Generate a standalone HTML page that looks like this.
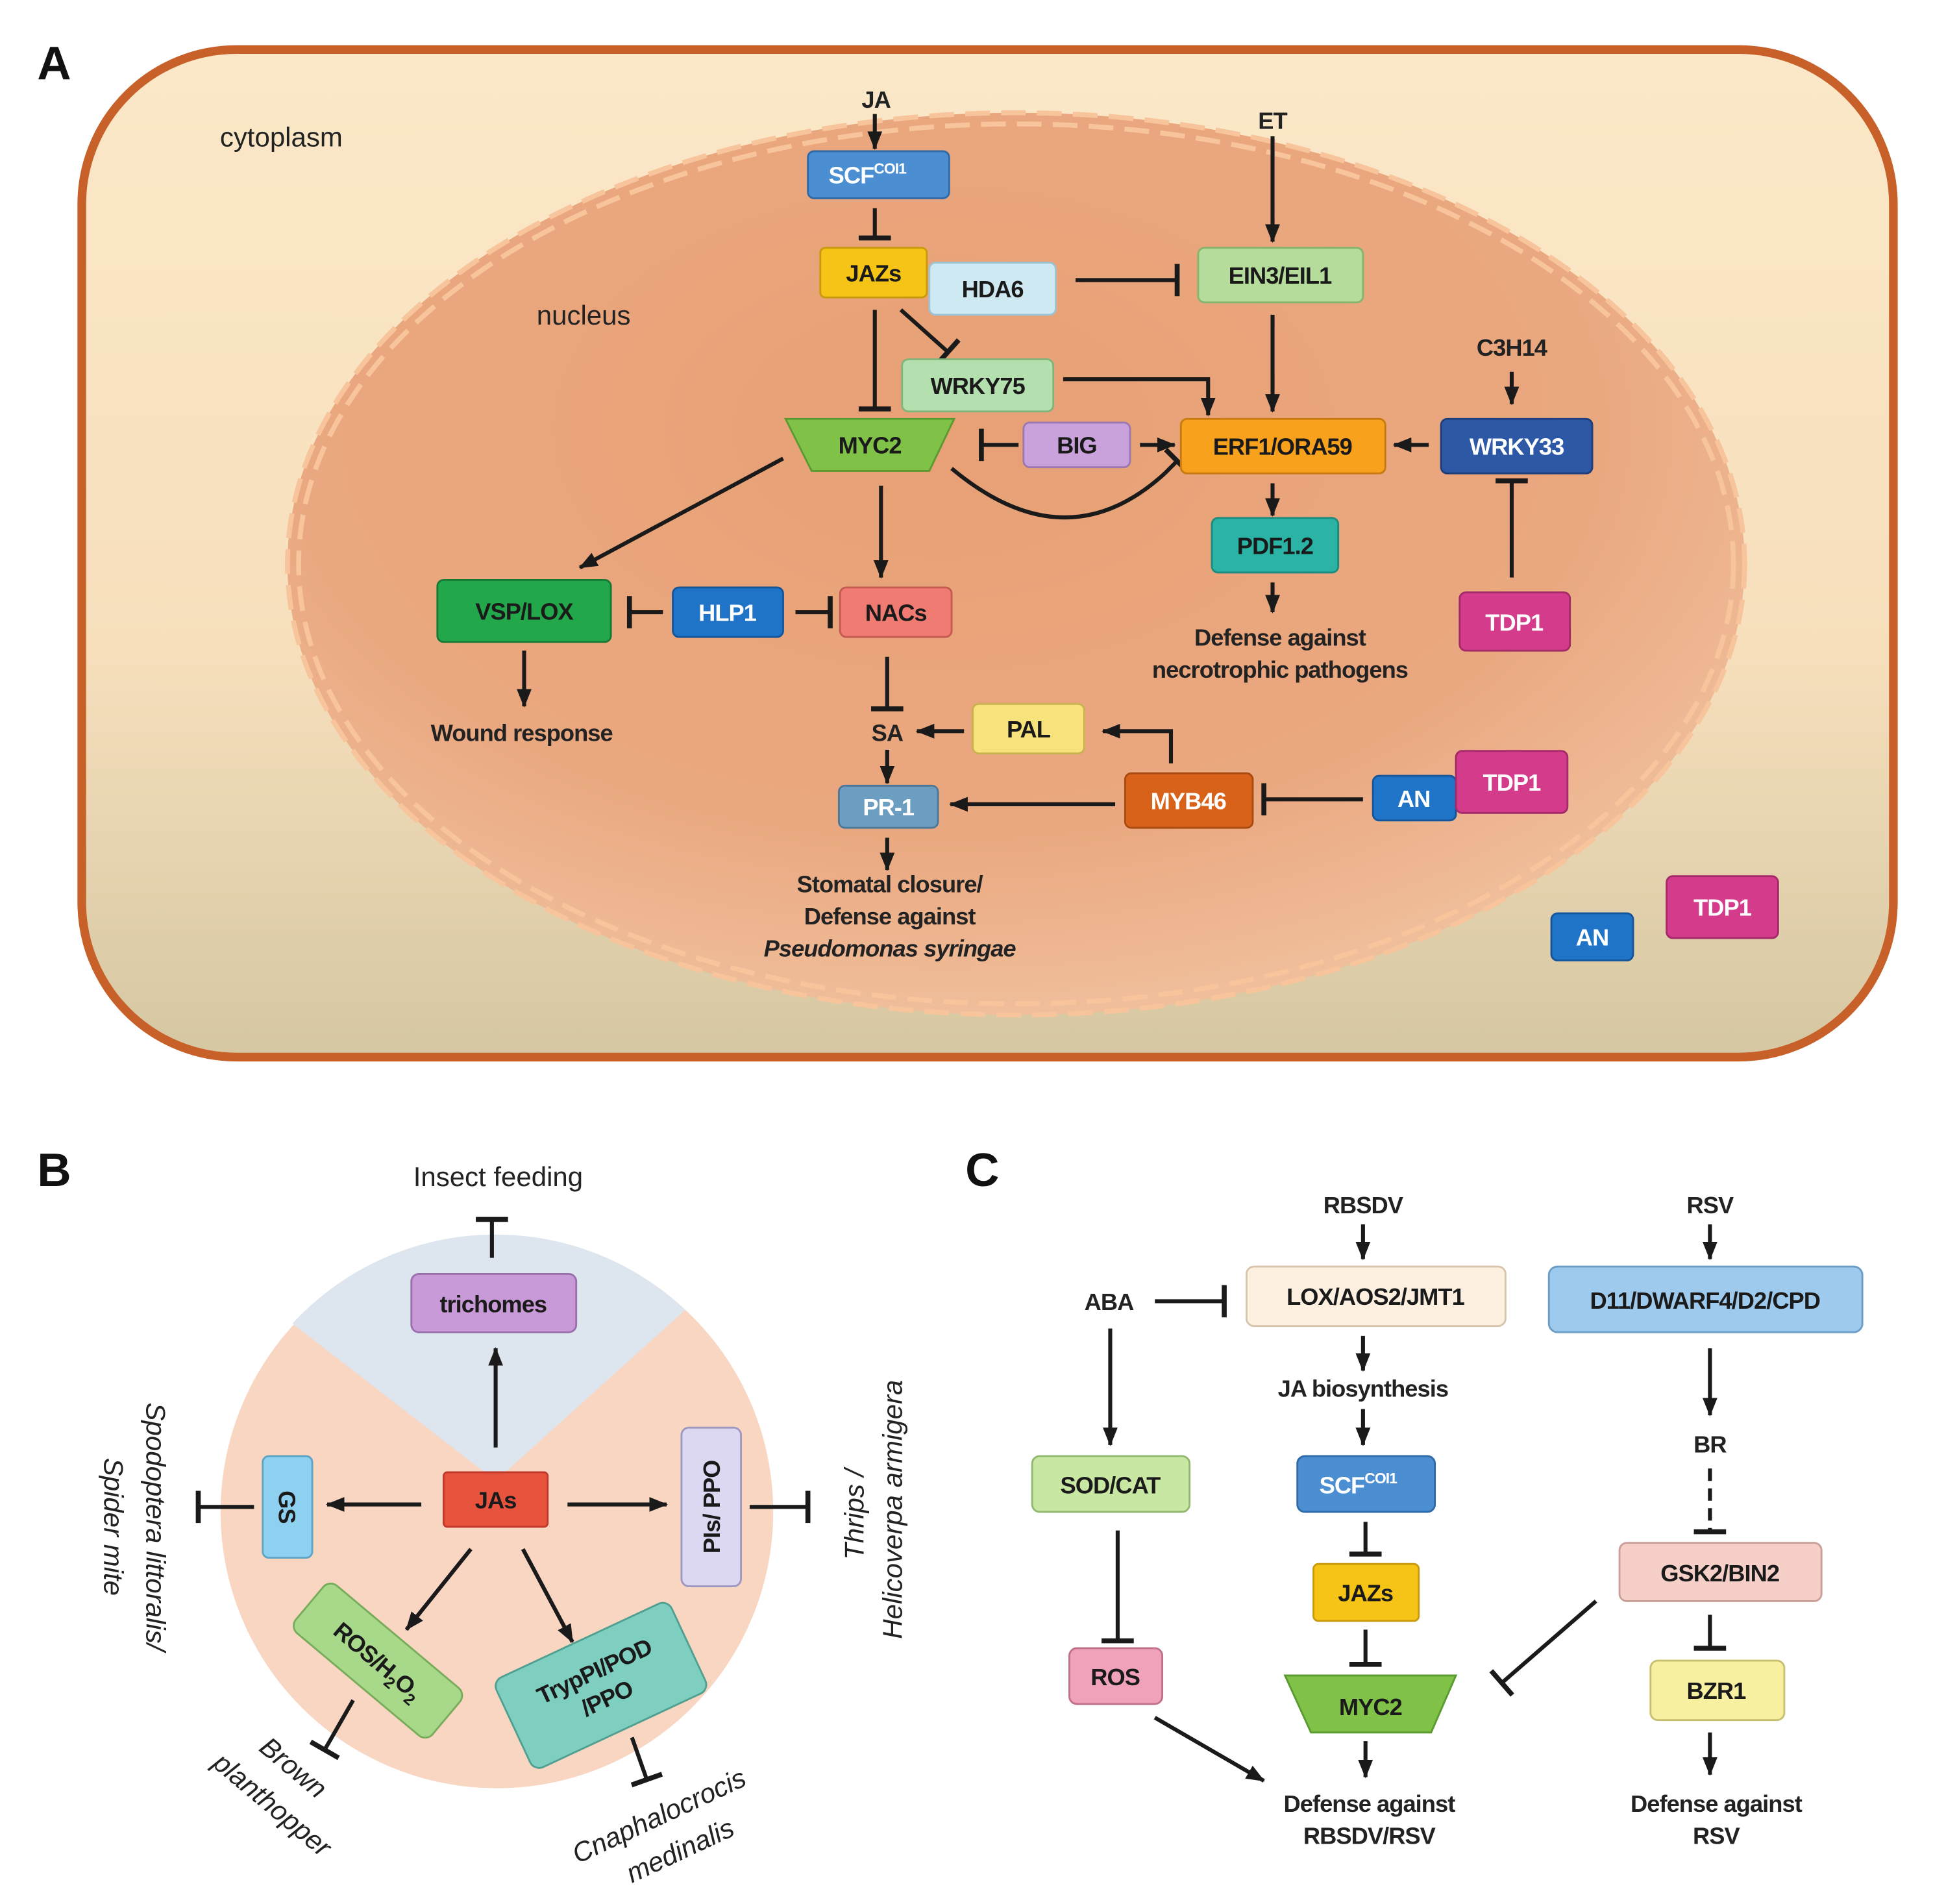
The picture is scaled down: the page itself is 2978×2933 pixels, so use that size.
<!DOCTYPE html>
<html><head><meta charset="utf-8"><style>
html,body{margin:0;padding:0;background:#fff;}
svg{display:block;}
text{font-family:"Liberation Sans",sans-serif;}
.n{font-weight:bold;font-size:19px;text-anchor:middle;fill:#1a1a1a;letter-spacing:-0.5px;}
.w{font-weight:bold;font-size:19px;text-anchor:middle;fill:#fff;letter-spacing:-0.5px;}
.l{font-weight:bold;font-size:19px;text-anchor:middle;fill:#222;letter-spacing:-0.5px;}
.p{font-size:22px;text-anchor:middle;fill:#222;}
.i{font-style:italic;font-size:22px;text-anchor:middle;fill:#222;}
.ln{stroke:#1a1a1a;stroke-width:3.2;fill:none;}
.bx{stroke-width:1.5;}
</style></head><body>
<svg width="2978" height="2933" viewBox="0 0 1560 1536.4" preserveAspectRatio="none" xmlns="http://www.w3.org/2000/svg">
<defs>
<linearGradient id="cyto" x1="0" y1="0" x2="0" y2="1">
<stop offset="0" stop-color="#fbe8c8"/><stop offset="0.6" stop-color="#f7dfbc"/><stop offset="1" stop-color="#d5c7a2"/></linearGradient>
<radialGradient id="nuc" cx="0.45" cy="0.35" r="0.75">
<stop offset="0" stop-color="#e8a075"/><stop offset="0.6" stop-color="#eaa880"/><stop offset="1" stop-color="#f2c9a8"/></radialGradient>
<marker id="a" markerUnits="userSpaceOnUse" markerWidth="16" markerHeight="16" refX="14" refY="8" orient="auto"><path d="M0,2 L15,8 L0,14 Z" fill="#1a1a1a"/></marker>
<marker id="b" markerUnits="userSpaceOnUse" markerWidth="6" markerHeight="30" refX="3" refY="15" orient="auto"><path d="M3,2 L3,28" stroke="#1a1a1a" stroke-width="4"/></marker>
</defs>
<rect width="1560" height="1536.4" fill="#fff"/>
<!-- Panel A -->
<text x="30" y="64" font-size="38" font-weight="bold" fill="#111">A</text>
<rect x="66" y="40" width="1462" height="813" rx="125" fill="url(#cyto)" stroke="#c8602a" stroke-width="7"/>
<ellipse cx="820" cy="455" rx="588" ry="364" fill="url(#nuc)"/>
<ellipse cx="820" cy="455" rx="588" ry="364" fill="none" stroke="#f7c49c" stroke-width="4" stroke-dasharray="20 9"/>
<ellipse cx="820" cy="455" rx="579" ry="355" fill="none" stroke="#f7c49c" stroke-width="4" stroke-dasharray="20 9"/>
<text x="227" y="118" class="p" font-size="24">cytoplasm</text>
<text x="471" y="262" class="p" font-size="24">nucleus</text>

<!-- connectors A -->
<text x="707" y="87" class="l">JA</text>
<line x1="706" y1="92" x2="706" y2="120" class="ln" marker-end="url(#a)"/>
<line x1="706" y1="168" x2="706" y2="192" class="ln" marker-end="url(#b)"/>
<text x="1027" y="104" class="l">ET</text>
<line x1="1027" y1="110" x2="1027" y2="195" class="ln" marker-end="url(#a)"/>
<line x1="868" y1="226" x2="950" y2="226" class="ln" marker-end="url(#b)"/>
<line x1="1027" y1="254" x2="1027" y2="332" class="ln" marker-end="url(#a)"/>
<text x="1220" y="287" class="l">C3H14</text>
<line x1="1220" y1="300" x2="1220" y2="326" class="ln" marker-end="url(#a)"/>
<line x1="727" y1="250" x2="765" y2="284" class="ln" marker-end="url(#b)"/>
<line x1="706" y1="250" x2="706" y2="330" class="ln" marker-end="url(#b)"/>
<polyline points="858,306 975,306 975,335" class="ln" marker-end="url(#a)"/>
<line x1="822" y1="359" x2="792" y2="359" class="ln" marker-end="url(#b)"/>
<line x1="920" y1="359" x2="948" y2="359" class="ln" marker-end="url(#a)"/>
<line x1="1153" y1="359" x2="1125" y2="359" class="ln" marker-end="url(#a)"/>
<line x1="1220" y1="466" x2="1220" y2="388" class="ln" marker-end="url(#b)"/>
<path d="M768,378 Q860,455 940,382" class="ln"/>
<line x1="940" y1="382" x2="950" y2="372" class="ln" marker-end="url(#b)"/>
<line x1="1027" y1="390" x2="1027" y2="416" class="ln" marker-end="url(#a)"/>
<line x1="1027" y1="470" x2="1027" y2="494" class="ln" marker-end="url(#a)"/>
<text x="1033" y="521" class="l">Defense against</text>
<text x="1033" y="547" class="l">necrotrophic pathogens</text>
<line x1="632" y1="370" x2="468" y2="458" class="ln" marker-end="url(#a)"/>
<line x1="711" y1="392" x2="711" y2="466" class="ln" marker-end="url(#a)"/>
<line x1="535" y1="494" x2="508" y2="494" class="ln" marker-end="url(#b)"/>
<line x1="642" y1="494" x2="670" y2="494" class="ln" marker-end="url(#b)"/>
<line x1="423" y1="525" x2="423" y2="570" class="ln" marker-end="url(#a)"/>
<text x="421" y="598" class="l">Wound response</text>
<line x1="716" y1="530" x2="716" y2="572" class="ln" marker-end="url(#b)"/>
<text x="716" y="598" class="l">SA</text>
<line x1="778" y1="590" x2="740" y2="590" class="ln" marker-end="url(#a)"/>
<polyline points="945,616 945,590 890,590" class="ln" marker-end="url(#a)"/>
<line x1="716" y1="605" x2="716" y2="632" class="ln" marker-end="url(#a)"/>
<line x1="900" y1="649" x2="767" y2="649" class="ln" marker-end="url(#a)"/>
<line x1="1100" y1="645" x2="1020" y2="645" class="ln" marker-end="url(#b)"/>
<line x1="716" y1="676" x2="716" y2="702" class="ln" marker-end="url(#a)"/>
<text x="718" y="720" class="l">Stomatal closure/</text>
<text x="718" y="746" class="l">Defense against</text>
<text x="718" y="772" class="l" font-style="italic">Pseudomonas syringae</text>

<!-- nodes A -->
<rect x="652" y="122" width="114" height="38" rx="5" fill="#4b8fd2" stroke="#2f6aa8" class="bx"/>
<text x="700" y="148" class="w">SCF<tspan font-size="12" dy="-8">COI1</tspan></text>
<rect x="662" y="200" width="86" height="40" rx="4" fill="#f5c416" stroke="#c89a0c" class="bx"/>
<text x="705" y="227" class="n">JAZs</text>
<rect x="750" y="212" width="102" height="42" rx="5" fill="#cfe9f3" stroke="#9cc3d2" class="bx"/>
<text x="801" y="240" class="n">HDA6</text>
<rect x="967" y="200" width="133" height="44" rx="5" fill="#b6dc9c" stroke="#85b56c" class="bx"/>
<text x="1033" y="229" class="n">EIN3/EIL1</text>
<rect x="728" y="290" width="122" height="42" rx="5" fill="#b4dfae" stroke="#80b57a" class="bx"/>
<text x="789" y="318" class="n">WRKY75</text>
<polygon points="634,338 770,338 750,380 655,380" fill="#80c148" stroke="#5a9a30" stroke-width="1.5"/>
<text x="702" y="366" class="n">MYC2</text>
<rect x="826" y="341" width="86" height="36" rx="5" fill="#c9a2dc" stroke="#9c78b0" class="bx"/>
<text x="869" y="366" class="n">BIG</text>
<rect x="953" y="338" width="165" height="44" rx="5" fill="#f7a11c" stroke="#c87a10" class="bx"/>
<text x="1035" y="367" class="n">ERF1/ORA59</text>
<rect x="1163" y="338" width="122" height="44" rx="5" fill="#2c58a6" stroke="#1d3e7a" class="bx"/>
<text x="1224" y="367" class="w">WRKY33</text>
<rect x="978" y="418" width="102" height="44" rx="5" fill="#2bb3a6" stroke="#1d8a80" class="bx"/>
<text x="1029" y="447" class="n">PDF1.2</text>
<rect x="1178" y="478" width="89" height="47" rx="5" fill="#d43c8b" stroke="#a42a6a" class="bx"/>
<text x="1222" y="509" class="w">TDP1</text>
<rect x="353" y="468" width="140" height="50" rx="5" fill="#22a74b" stroke="#167a35" class="bx"/>
<text x="423" y="500" class="n">VSP/LOX</text>
<rect x="543" y="474" width="89" height="40" rx="5" fill="#1f74c8" stroke="#15559a" class="bx"/>
<text x="587" y="501" class="w">HLP1</text>
<rect x="678" y="474" width="90" height="40" rx="5" fill="#f07b72" stroke="#c45a52" class="bx"/>
<text x="723" y="501" class="n">NACs</text>
<rect x="785" y="568" width="90" height="40" rx="5" fill="#f7e27c" stroke="#c8b350" class="bx"/>
<text x="830" y="595" class="n">PAL</text>
<rect x="677" y="634" width="80" height="34" rx="5" fill="#6c9ec2" stroke="#4c7898" class="bx"/>
<text x="717" y="658" class="w">PR-1</text>
<rect x="908" y="624" width="103" height="44" rx="5" fill="#d9621b" stroke="#a84a10" class="bx"/>
<text x="959" y="653" class="w">MYB46</text>
<rect x="1108" y="626" width="67" height="36" rx="5" fill="#1f74c8" stroke="#15559a" class="bx"/>
<text x="1141" y="651" class="w">AN</text>
<rect x="1175" y="606" width="90" height="50" rx="5" fill="#d43c8b" stroke="#a42a6a" class="bx"/>
<text x="1220" y="638" class="w">TDP1</text>
<rect x="1252" y="737" width="66" height="38" rx="5" fill="#1f74c8" stroke="#15559a" class="bx"/>
<text x="1285" y="763" class="w">AN</text>
<rect x="1345" y="707" width="90" height="50" rx="5" fill="#d43c8b" stroke="#a42a6a" class="bx"/>
<text x="1390" y="739" class="w">TDP1</text>

<!-- Panel B -->
<text x="30" y="957" font-size="38" font-weight="bold" fill="#111">B</text>
<circle cx="401" cy="1220" r="223" fill="#f8d6c2"/>
<path d="M400,1195 L236,1068 A223,223 0 0 1 553,1057 Z" fill="#dde5ee"/>
<text x="402" y="957" class="p">Insect feeding</text>
<line x1="397" y1="1015" x2="397" y2="984" class="ln" marker-end="url(#b)"/>
<rect x="332" y="1028" width="133" height="47" rx="6" fill="#c99ad8" stroke="#9a70ac" class="bx"/>
<text x="398" y="1059" class="n">trichomes</text>
<line x1="400" y1="1168" x2="400" y2="1088" class="ln" marker-end="url(#a)"/>
<rect x="358" y="1188" width="84" height="44" rx="3" fill="#e8533e" stroke="#c0392b" class="bx"/>
<text x="400" y="1217" class="n" font-weight="normal">JAs</text>
<rect x="212" y="1175" width="40" height="82" rx="5" fill="#8ed0ef" stroke="#5ea4c4" class="bx"/>
<text transform="translate(232,1216) rotate(90)" y="7" class="n">GS</text>
<line x1="340" y1="1214" x2="264" y2="1214" class="ln" marker-end="url(#a)"/>
<line x1="205" y1="1216" x2="160" y2="1216" class="ln" marker-end="url(#b)"/>
<rect x="550" y="1152" width="48" height="128" rx="6" fill="#dcd8f2" stroke="#9e98c0" class="bx"/>
<text transform="translate(574,1216) rotate(-90)" y="7" class="n">PIs/ PPO</text>
<line x1="458" y1="1214" x2="538" y2="1214" class="ln" marker-end="url(#a)"/>
<line x1="605" y1="1216" x2="652" y2="1216" class="ln" marker-end="url(#b)"/>
<text transform="translate(118,1232) rotate(90)" class="i">Spodoptera littoralis/</text>
<text transform="translate(84,1232) rotate(90)" class="i">Spider mite</text>
<text transform="translate(697,1222) rotate(-90)" class="i">Thrips /</text>
<text transform="translate(728,1218) rotate(-90)" class="i">Helicoverpa armigera</text>
<line x1="380" y1="1250" x2="328" y2="1315" class="ln" marker-end="url(#a)"/>
<line x1="422" y1="1250" x2="462" y2="1325" class="ln" marker-end="url(#a)"/>
<g transform="translate(305,1340) rotate(40)">
<rect x="-72" y="-25" width="144" height="50" rx="8" fill="#a8d98a" stroke="#78ac5a" class="bx"/>
<text y="7" class="n">ROS/H<tspan font-size="13" dy="5">2</tspan><tspan dy="-5">O</tspan><tspan font-size="13" dy="5">2</tspan></text>
</g>
<g transform="translate(485,1360) rotate(-25)">
<rect x="-78" y="-40" width="156" height="80" rx="8" fill="#7fcfc0" stroke="#4fa090" class="bx"/>
<text y="-6" class="n">TrypPI/POD</text><text y="18" class="n">/PPO</text>
</g>
<line x1="285" y1="1372" x2="262" y2="1412" class="ln" marker-end="url(#b)"/>
<line x1="510" y1="1402" x2="522" y2="1436" class="ln" marker-end="url(#b)"/>
<text transform="translate(232,1432) rotate(40)" class="i">Brown</text>
<text transform="translate(215,1462) rotate(40)" class="i">planthopper</text>
<text transform="translate(535,1472) rotate(-25)" class="i">Cnaphalocrocis</text>
<text transform="translate(552,1500) rotate(-25)" class="i">medinalis</text>

<!-- Panel C -->
<text x="779" y="957" font-size="38" font-weight="bold" fill="#111">C</text>
<text x="1100" y="979" class="l">RBSDV</text>
<line x1="1100" y1="988" x2="1100" y2="1016" class="ln" marker-end="url(#a)"/>
<text x="1380" y="979" class="l">RSV</text>
<line x1="1380" y1="988" x2="1380" y2="1016" class="ln" marker-end="url(#a)"/>
<rect x="1006" y="1022" width="209" height="48" rx="6" fill="#fdf0e0" stroke="#d8c4ac" class="bx"/>
<text x="1110" y="1053" class="n">LOX/AOS2/JMT1</text>
<rect x="1250" y="1022" width="253" height="53" rx="7" fill="#9ecaee" stroke="#6a9cc4" class="bx"/>
<text x="1376" y="1056" class="n">D11/DWARF4/D2/CPD</text>
<text x="895" y="1057" class="l">ABA</text>
<line x1="932" y1="1050" x2="988" y2="1050" class="ln" marker-end="url(#b)"/>
<line x1="896" y1="1072" x2="896" y2="1166" class="ln" marker-end="url(#a)"/>
<line x1="1100" y1="1078" x2="1100" y2="1106" class="ln" marker-end="url(#a)"/>
<text x="1100" y="1127" class="l">JA biosynthesis</text>
<line x1="1100" y1="1137" x2="1100" y2="1166" class="ln" marker-end="url(#a)"/>
<rect x="833" y="1175" width="127" height="45" rx="6" fill="#c7e7a2" stroke="#92b870" class="bx"/>
<text x="896" y="1205" class="n">SOD/CAT</text>
<rect x="1047" y="1175" width="111" height="45" rx="6" fill="#4b8fd2" stroke="#2f6aa8" class="bx"/>
<text x="1096" y="1205" class="w">SCF<tspan font-size="12" dy="-8">COI1</tspan></text>
<line x1="1102" y1="1228" x2="1102" y2="1254" class="ln" marker-end="url(#b)"/>
<rect x="1060" y="1262" width="85" height="46" rx="4" fill="#f5c416" stroke="#c89a0c" class="bx"/>
<text x="1102" y="1292" class="n">JAZs</text>
<line x1="1102" y1="1315" x2="1102" y2="1343" class="ln" marker-end="url(#b)"/>
<polygon points="1037,1352 1175,1352 1155,1398 1058,1398" fill="#80c148" stroke="#5a9a30" stroke-width="1.5"/>
<text x="1106" y="1384" class="n">MYC2</text>
<line x1="1102" y1="1405" x2="1102" y2="1434" class="ln" marker-end="url(#a)"/>
<line x1="902" y1="1235" x2="902" y2="1324" class="ln" marker-end="url(#b)"/>
<rect x="863" y="1330" width="75" height="45" rx="6" fill="#f0a2ba" stroke="#c07088" class="bx"/>
<text x="900" y="1360" class="n">ROS</text>
<line x1="932" y1="1386" x2="1020" y2="1437" class="ln" marker-end="url(#a)"/>
<text x="1105" y="1462" class="l">Defense against</text>
<text x="1105" y="1488" class="l">RBSDV/RSV</text>
<line x1="1380" y1="1088" x2="1380" y2="1142" class="ln" marker-end="url(#a)"/>
<text x="1380" y="1172" class="l">BR</text>
<line x1="1380" y1="1185" x2="1380" y2="1236" class="ln" stroke-dasharray="10 6" marker-end="url(#b)"/>
<rect x="1307" y="1245" width="163" height="47" rx="6" fill="#f6d0c8" stroke="#c8a098" class="bx"/>
<text x="1388" y="1276" class="n">GSK2/BIN2</text>
<line x1="1288" y1="1292" x2="1212" y2="1358" class="ln" marker-end="url(#b)"/>
<line x1="1380" y1="1303" x2="1380" y2="1330" class="ln" marker-end="url(#b)"/>
<rect x="1332" y="1340" width="108" height="48" rx="6" fill="#f6f0a0" stroke="#c8c070" class="bx"/>
<text x="1385" y="1371" class="n">BZR1</text>
<line x1="1380" y1="1398" x2="1380" y2="1432" class="ln" marker-end="url(#a)"/>
<text x="1385" y="1462" class="l">Defense against</text>
<text x="1385" y="1488" class="l">RSV</text>
</svg>
</body></html>
